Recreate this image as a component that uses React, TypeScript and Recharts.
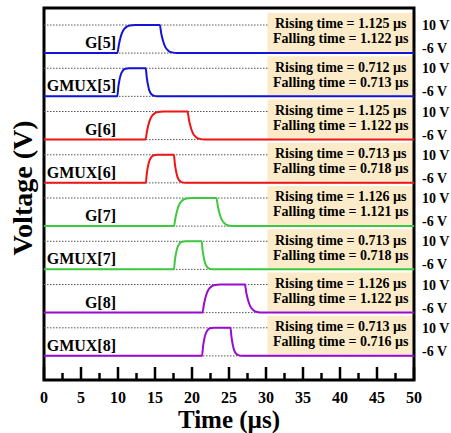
import React from "react";
import {
  LineChart,
  Line,
  XAxis,
  YAxis,
  ReferenceArea,
  ReferenceLine,
  ReferenceDot,
} from "recharts";

type Pt = [number, number];

// waveforms: [time in µs, voltage in V]
const G5: Pt[] = [[0, -6], [9.9, -6], [10.15, -0.5], [10.4, 3.8], [10.7, 6.9], [11.1, 8.8], [11.6, 9.7], [12.3, 10], [15.65, 10], [15.85, 5], [16.1, 0.8], [16.4, -2.6], [16.8, -4.6], [17.3, -5.6], [18.05, -6], [50, -6]];
const GMUX5: Pt[] = [[0, -6], [9.9, -6], [10.05, -0.5], [10.22, 3.8], [10.42, 6.9], [10.68, 8.8], [11.0, 9.7], [11.5, 10], [13.75, 10], [13.88, 5], [14.04, 0.8], [14.23, -2.6], [14.48, -4.6], [14.8, -5.6], [15.3, -6], [50, -6]];
const G6: Pt[] = [[0, -6], [13.7, -6], [13.95, -0.5], [14.2, 3.8], [14.5, 6.9], [14.9, 8.8], [15.4, 9.7], [16.1, 10], [19.4, 10], [19.6, 5], [19.85, 0.8], [20.15, -2.6], [20.55, -4.6], [21.05, -5.6], [21.8, -6], [50, -6]];
const GMUX6: Pt[] = [[0, -6], [13.75, -6], [13.9, -0.5], [14.07, 3.8], [14.27, 6.9], [14.53, 8.8], [14.85, 9.7], [15.35, 10], [17.55, 10], [17.68, 5], [17.84, 0.8], [18.03, -2.6], [18.28, -4.6], [18.6, -5.6], [19.1, -6], [50, -6]];
const G7: Pt[] = [[0, -6], [17.55, -6], [17.8, -0.5], [18.05, 3.8], [18.35, 6.9], [18.75, 8.8], [19.25, 9.7], [19.95, 10], [23.3, 10], [23.5, 5], [23.75, 0.8], [24.05, -2.6], [24.45, -4.6], [24.95, -5.6], [25.7, -6], [50, -6]];
const GMUX7: Pt[] = [[0, -6], [17.55, -6], [17.7, -0.5], [17.87, 3.8], [18.07, 6.9], [18.33, 8.8], [18.65, 9.7], [19.15, 10], [21.3, 10], [21.43, 5], [21.59, 0.8], [21.78, -2.6], [22.03, -4.6], [22.35, -5.6], [22.85, -6], [50, -6]];
const G8: Pt[] = [[0, -6], [21.4, -6], [21.65, -0.5], [21.9, 3.8], [22.2, 6.9], [22.6, 8.8], [23.1, 9.7], [23.8, 10], [27.15, 10], [27.35, 5], [27.6, 0.8], [27.9, -2.6], [28.3, -4.6], [28.8, -5.6], [29.55, -6], [50, -6]];
const GMUX8: Pt[] = [[0, -6], [21.35, -6], [21.5, -0.5], [21.67, 3.8], [21.87, 6.9], [22.13, 8.8], [22.45, 9.7], [22.95, 10], [25.2, 10], [25.33, 5], [25.49, 0.8], [25.68, -2.6], [25.93, -4.6], [26.25, -5.6], [26.75, -6], [50, -6]];

const WAVES = [G5, GMUX5, G6, GMUX6, G7, GMUX7, G8, GMUX8];
const NAMES = ["G[5]", "GMUX[5]", "G[6]", "GMUX[6]", "G[7]", "GMUX[7]", "G[8]", "GMUX[8]"];
const RISE = ["1.125", "0.712", "1.125", "0.713", "1.126", "0.713", "1.126", "0.713"];
const FALL = ["1.122", "0.713", "1.122", "0.718", "1.121", "0.718", "1.122", "0.716"];
const COLORS = ["#1414d4", "#1414d4", "#f01414", "#f01414", "#3ec83e", "#3ec83e", "#9a0ad2", "#9a0ad2"];

const HIGH = 10;
const LOW = -6;
const X_TICKS = [0, 2.5, 5, 7.5, 10, 12.5, 15, 17.5, 20, 22.5, 25, 27.5, 30, 32.5, 35, 37.5, 40, 42.5, 45, 47.5, 50];

// layout
const ROW_GAP = 24.65; // volts between stacked traces
const Y_MAX = 19.7;
const Y_MIN = -192.3;
const BOX_X = 30.2;
const LABEL_X = 9.73;
const FONT = "'Liberation Serif', 'Times New Roman', serif";

const rowOffset = (i: number) => -i * ROW_GAP;

const XTick = (p: any) => {
  const v = p.payload.value;
  const major = v % 5 === 0;
  return (
    <g>
      <line x1={p.x} x2={p.x} y1={p.y} y2={p.y - (major ? 13 : 7)} stroke="#000" strokeWidth={2.5} />
      {major && (
        <text x={p.x} y={p.y + 23} textAnchor="middle" fontFamily={FONT} fontWeight="bold" fontSize={16} fill="#000">
          {v}
        </text>
      )}
    </g>
  );
};

const rightTicks: number[] = [];
NAMES.forEach((_, i) => {
  rightTicks.push(HIGH + rowOffset(i), LOW + rowOffset(i));
});

const YTick = (p: any) => {
  const idx = rightTicks.findIndex((t) => Math.abs(t - p.payload.value) < 1e-6);
  const isHigh = idx % 2 === 0;
  return (
    <text x={p.x + 8} y={p.y + (isHigh ? 5 : 0)} fontFamily={FONT} fontWeight="bold" fontSize={14} fill="#000">
      {isHigh ? "10 V" : "-6 V"}
    </text>
  );
};

export default function App() {
  return (
    <div style={{ width: 451, height: 433, background: "#fff" }}>
      <style>{`body{margin:0}`}</style>
      <LineChart width={451} height={433} margin={{ top: 8, right: 0, bottom: 0, left: 0 }}>
        <XAxis
          dataKey="t"
          type="number"
          domain={[0, 50]}
          ticks={X_TICKS}
          interval={0}
          height={53}
          axisLine={false}
          tickLine={false}
          tickSize={0}
          tickMargin={0}
          tick={XTick}
          label={(p: any) => {
            const vb = p.viewBox;
            return (
              <text x={vb.x + vb.width / 2} y={vb.y + 48} textAnchor="middle" fontFamily={FONT} fontWeight="bold" fontSize={25} fill="#000">
                Time (µs)
              </text>
            );
          }}
        />
        <YAxis
          yAxisId="l"
          orientation="left"
          type="number"
          domain={[Y_MIN, Y_MAX]}
          width={44}
          tick={false}
          axisLine={false}
          tickLine={false}
          label={(p: any) => {
            const vb = p.viewBox;
            const cx = vb.x + 22;
            const cy = 188;
            return (
              <text x={cx} y={cy} transform={`rotate(-90, ${cx}, ${cy})`} textAnchor="middle" dominantBaseline="central" fontFamily={FONT} fontWeight="bold" fontSize={28} fill="#000">
                Voltage (V)
              </text>
            );
          }}
        />
        <YAxis
          orientation="right"
          type="number"
          domain={[Y_MIN, Y_MAX]}
          allowDataOverflow
          ticks={rightTicks}
          interval={0}
          width={37}
          axisLine={false}
          tickLine={false}
          tickSize={0}
          tickMargin={0}
          tick={YTick}
        />
        {NAMES.map((_, i) => (
          <ReferenceLine
            key={`hl${i}`}
            segment={[{ x: 0, y: HIGH + rowOffset(i) }, { x: BOX_X, y: HIGH + rowOffset(i) }]}
            stroke="#555"
            strokeDasharray="1.5 1.5"
            strokeWidth={1}
          />
        ))}
        {NAMES.map((_, i) => (
          <ReferenceLine
            key={`ll${i}`}
            segment={[{ x: 0, y: LOW + rowOffset(i) }, { x: 50, y: LOW + rowOffset(i) }]}
            stroke="#555"
            strokeDasharray="1.5 1.5"
            strokeWidth={1}
          />
        ))}
        {NAMES.map((_, i) => (
          <ReferenceArea
            key={`box${i}`}
            x1={BOX_X}
            x2={50}
            y1={-5.3 + rowOffset(i)}
            y2={16.9 + rowOffset(i)}
            fill="#fcebc8"
            fillOpacity={1}
            stroke="none"
            label={(p: any) => {
              const vb = p.viewBox;
              const cx = vb.x + vb.width / 2;
              return (
                <g fontFamily={FONT} fontWeight="bold" fontSize={14} fill="#000">
                  <text x={cx} y={vb.y + 15.5} textAnchor="middle">
                    Rising time = {RISE[i]} µs
                  </text>
                  <text x={cx} y={vb.y + 30.5} textAnchor="middle">
                    Falling time = {FALL[i]} µs
                  </text>
                </g>
              );
            }}
          />
        ))}
        {WAVES.map((w, i) => (
          <Line
            key={NAMES[i]}
            data={w.map(([t, v]) => ({ t, v: v + rowOffset(i) }))}
            dataKey="v"
            type="monotone"
            stroke={COLORS[i]}
            strokeWidth={2}
            dot={false}
            activeDot={false}
            isAnimationActive={false}
          />
        ))}
        {NAMES.map((n, i) => (
          <ReferenceDot
            key={`nm${i}`}
            x={LABEL_X}
            y={LOW + rowOffset(i)}
            r={0}
            fill="none"
            stroke="none"
            label={(p: any) => {
              const vb = p.viewBox;
              const x = vb.x + (vb.width || 0) / 2;
              const y = vb.y + (vb.height || 0) / 2;
              return (
                <text x={x} y={y - 5} textAnchor="end" fontFamily={FONT} fontWeight="bold" fontSize={16} fill="#000">
                  {n}
                </text>
              );
            }}
          />
        ))}
        <ReferenceArea x1={0} x2={50} y1={Y_MIN} y2={Y_MAX} fill="none" stroke="#000" strokeWidth={3} />
      </LineChart>
    </div>
  );
}
